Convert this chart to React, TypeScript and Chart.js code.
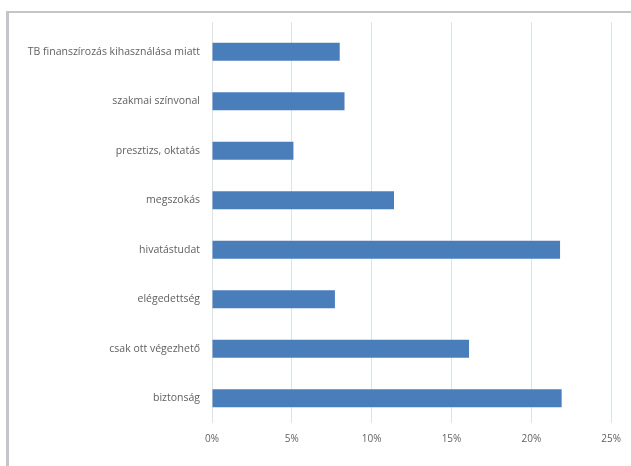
import React, { useEffect, useRef } from "react";
import { Chart, registerables } from "chart.js";

Chart.register(...registerables);

// Reasons given, top to bottom
const categories: string[] = [
  "TB finanszírozás kihasználása miatt",
  "szakmai színvonal",
  "presztizs, oktatás",
  "megszokás",
  "hivatástudat",
  "elégedettség",
  "csak ott végezhető",
  "biztonság",
];

// Share of answers, percent
const shares: number[] = [8.0, 8.3, 5.1, 11.4, 21.8, 7.7, 16.1, 21.9];

const axisMax = 25;
const axisStep = 5;

const W = 631;
const H = 466;
const FONT = "'Open Sans', 'Noto Sans', sans-serif";
const GRID = "#dce3e9";
const TEXT = "#5f5f5f";

export default function App() {
  const ref = useRef<HTMLCanvasElement | null>(null);

  useEffect(() => {
    if (!ref.current) return;
    const chart = new Chart(ref.current, {
      type: "bar",
      data: {
        labels: categories,
        datasets: [
          {
            data: shares,
            backgroundColor: "#4a7ebb",
            borderWidth: 0,
            barPercentage: 0.36,
            categoryPercentage: 1,
          },
        ],
      },
      options: {
        indexAxis: "y",
        responsive: false,
        animation: false,
        devicePixelRatio: 1,
        layout: { padding: { top: 22, right: 18, bottom: 0, left: 0 } },
        plugins: {
          legend: { display: false },
          tooltip: { enabled: false },
        },
        scales: {
          x: {
            type: "linear",
            position: "bottom",
            min: 0,
            max: axisMax,
            ticks: {
              stepSize: axisStep,
              padding: 10,
              color: TEXT,
              font: { family: FONT, size: 10 },
              callback: (v: any) => `${v}%`,
            },
            grid: { color: GRID, lineWidth: 1, drawTicks: false },
            border: { display: false },
            afterFit: (s: any) => {
              s.height = 43;
            },
          },
          xTop: {
            type: "linear",
            position: "top",
            min: 0,
            max: axisMax,
            ticks: { stepSize: axisStep, display: false },
            grid: {
              color: GRID,
              drawOnChartArea: false,
              drawTicks: true,
              tickLength: 5,
            },
            border: { display: false },
            afterFit: (s: any) => {
              s.height = 5;
            },
          },
          y: {
            type: "category",
            ticks: {
              padding: 12,
              color: TEXT,
              font: { family: FONT, size: 10.5 },
            },
            grid: { display: false, drawTicks: false },
            border: { display: false },
            afterFit: (s: any) => {
              s.width = 212;
            },
          },
        },
      },
    });
    return () => chart.destroy();
  }, []);

  return (
    <div
      style={{
        position: "absolute",
        left: 0,
        top: 0,
        width: W,
        height: H,
        background: "#ffffff",
        overflow: "hidden",
      }}
    >
      <div
        style={{
          position: "absolute",
          left: 6,
          top: 11,
          width: W,
          height: H,
          borderTop: "2px solid #c4c5c8",
          borderLeft: "3px solid #c4c5c8",
        }}
      />
      <canvas
        ref={ref}
        width={W}
        height={H}
        style={{ position: "absolute", left: 0, top: 0, width: W, height: H }}
      />
    </div>
  );
}
